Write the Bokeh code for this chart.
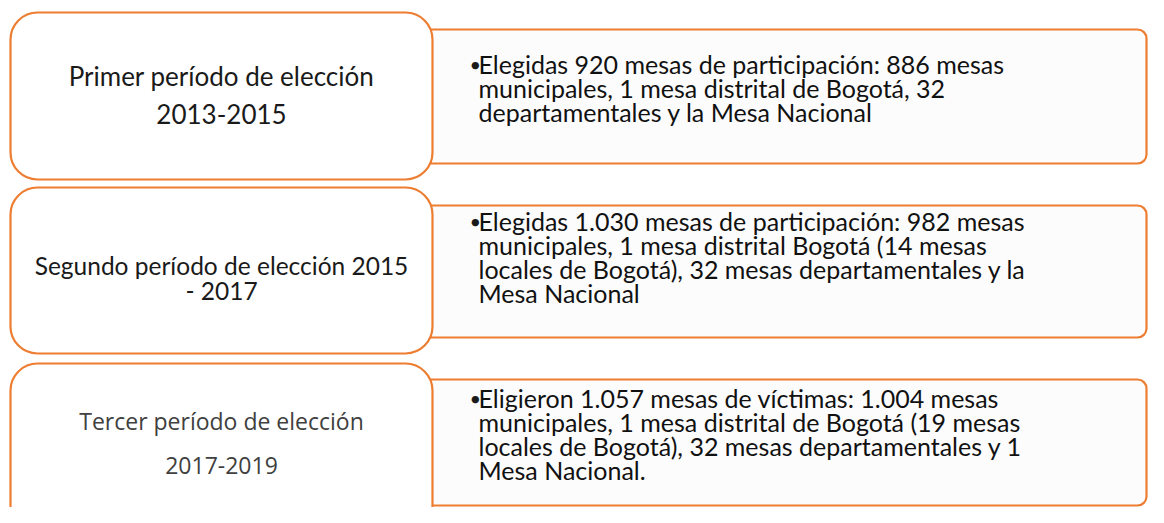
from bokeh.plotting import figure
from bokeh.models import Range1d
from bokeh.core.properties import value
from bokeh.embed import file_html
from bokeh.resources import INLINE

# ---- content ----
left_lines = [
    ["Primer período de elección", "2013-2015"],
    ["Segundo período de elección 2015", "- 2017"],
    ["Tercer período de elección", "2017-2019"],
]
right_lines = [
    ["Elegidas 920 mesas de participación: 886 mesas",
     "municipales, 1 mesa distrital de Bogotá, 32",
     "departamentales y la Mesa Nacional"],
    ["Elegidas 1.030 mesas de participación: 982 mesas",
     "municipales, 1 mesa distrital Bogotá (14 mesas",
     "locales de Bogotá), 32 mesas departamentales y la",
     "Mesa Nacional"],
    ["Eligieron 1.057 mesas de víctimas: 1.004 mesas",
     "municipales, 1 mesa distrital de Bogotá (19 mesas",
     "locales de Bogotá), 32 mesas departamentales y 1",
     "Mesa Nacional."],
]

# ---- layout (reference pixel space) ----
W, H = 1148, 507
left_top = [12, 187, 363]
left_bottom = [179, 353, 531]
left_x0, left_x1 = 10, 432
right_top = [29, 205, 379]
right_bottom = [163, 337, 505]
right_x0, right_x1 = 430, W - 2
left_line_y = [[75, 113], [265, 290], [420, 465]]
left_font = ["26px", "24.5px", "23px"]
right_first_y = [63, 220, 397]
right_gap = 24.2
bullet_x = 469
text_x = 478

ORANGE = "#ED7D31"

p = figure(width=W, height=H,
           x_range=Range1d(0, W), y_range=Range1d(H, 0),
           output_backend="svg", toolbar_location=None,
           x_axis_location=None, y_axis_location=None)
p.grid.visible = False
p.outline_line_color = None
p.min_border = 0
p.background_fill_color = "white"
p.border_fill_color = "white"

# right boxes first (left boxes overlap them)
p.quad(left=[right_x0] * 3, right=[right_x1] * 3, top=right_top, bottom=right_bottom,
       fill_color="#FCFCFC", line_color=ORANGE, line_width=2.2,
       border_radius=(0, 9, 9, 0))
p.quad(left=[left_x0] * 3, right=[left_x1] * 3, top=left_top, bottom=left_bottom,
       fill_color="white", line_color=ORANGE, line_width=2.2,
       border_radius=27)

# left texts
cx = (left_x0 + left_x1) / 2
for i, lines in enumerate(left_lines):
    font = "Lato" if i < 2 else "Open Sans"
    color = "#1a1a1a" if i < 2 else "#404040"
    p.text(x=[cx] * len(lines), y=left_line_y[i], text=lines,
           text_font=value(font), text_font_size=left_font[i],
           text_color=color, text_align="center", text_baseline="middle")

# right texts
rx, ry, rt = [], [], []
bx, by = [], []
for i, lines in enumerate(right_lines):
    bx.append(bullet_x)
    by.append(right_first_y[i])
    for j, t in enumerate(lines):
        rx.append(text_x)
        ry.append(right_first_y[i] + j * right_gap)
        rt.append(t)
p.text(x=bx, y=by, text=["•"] * len(bx), text_font=value("Lato"),
       text_font_size="20px", text_color="#1a1a1a",
       text_align="left", text_baseline="middle")
p.text(x=rx, y=ry, text=rt, text_font=value("Lato"),
       text_font_size="25px", text_color="#111111",
       text_align="left", text_baseline="middle")

open("out.html", "w").write(file_html(p, INLINE))
